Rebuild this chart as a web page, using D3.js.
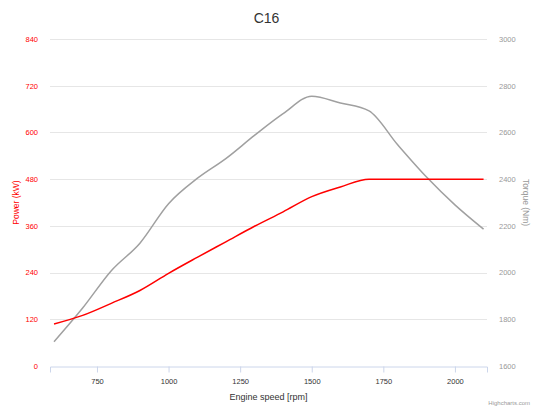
<!DOCTYPE html>
<html lang="en">
<head>
<meta charset="UTF-8">
<title>C16</title>
<style>
    body { margin: 0; background: #fff; }
    svg { display: block; font-family: "Liberation Sans", Arial, sans-serif; }
    .grid line { stroke: #e6e6e6; stroke-width: 1px; }
</style>
</head>
<body>
<div id="chart"></div>
<script src="https://cdn.jsdelivr.net/npm/d3@7"></script>
<script>
// engine speed (rpm)
const rpm = [600, 700, 800, 900, 1000, 1100, 1200, 1300, 1400, 1500, 1600, 1700, 1800, 1900, 2000, 2100];
// power (kW)
const power = [108, 130, 161, 194, 238, 279, 319, 359, 396, 435, 460, 480, 480, 480, 480, 480];
// torque (Nm)
const torque = [1704, 1848, 2008, 2126, 2295, 2403, 2488, 2587, 2680, 2755, 2726, 2692, 2547, 2410, 2290, 2186];

const powerTicks = [0, 120, 240, 360, 480, 600, 720, 840];
const torqueTicks = [1600, 1800, 2000, 2200, 2400, 2600, 2800, 3000];
const rpmTicks = [750, 1000, 1250, 1500, 1750, 2000];

const W = 533, H = 407;
const plotLeft = 50, plotRight = 487, plotTop = 39, plotBottom = 366;

const svg = d3.select("#chart").append("svg")
    .attr("width", W)
    .attr("height", H);

const x = d3.scaleLinear().domain([586, 2112]).range([plotLeft, plotRight]);
const yP = d3.scaleLinear().domain([0, 840]).range([plotBottom, plotTop]);
const yT = d3.scaleLinear().domain([1600, 3000]).range([plotBottom, plotTop]);

// title
svg.append("text")
    .attr("x", W / 2).attr("y", 23)
    .attr("text-anchor", "middle")
    .style("font-size", "14px")
    .style("fill", "#333")
    .text("C16");

// gridlines
svg.append("g").attr("class", "grid")
    .selectAll("line")
    .data(powerTicks.slice(1))
    .enter().append("line")
    .attr("x1", plotLeft).attr("x2", plotRight)
    .attr("y1", d => Math.round(yP(d)) + 0.5)
    .attr("y2", d => Math.round(yP(d)) + 0.5);

// x axis
const xAxis = svg.append("g")
    .attr("transform", "translate(0," + (plotBottom + 0.5) + ")")
    .call(d3.axisBottom(x).tickValues(rpmTicks).tickSize(6).tickPadding(6).tickFormat(d3.format("d")));
xAxis.select(".domain").attr("stroke", "#ccd6eb");
xAxis.selectAll(".tick line").attr("stroke", "#ccd6eb");
xAxis.selectAll("text").style("font-size", "7.5px").style("fill", "#333");

// left axis (power)
const yAxisL = svg.append("g")
    .attr("transform", "translate(" + plotLeft + ",0)")
    .call(d3.axisLeft(yP).tickValues(powerTicks).tickSize(0).tickPadding(12).tickFormat(d3.format("d")));
yAxisL.select(".domain").remove();
yAxisL.selectAll("text").style("font-size", "7.5px").style("fill", "#ff0000");

// right axis (torque)
const yAxisR = svg.append("g")
    .attr("transform", "translate(" + plotRight + ",0)")
    .call(d3.axisRight(yT).tickValues(torqueTicks).tickSize(0).tickPadding(12).tickFormat(d3.format("d")));
yAxisR.select(".domain").remove();
yAxisR.selectAll("text").style("font-size", "7.5px").style("fill", "#999");

// axis titles
svg.append("text")
    .attr("x", (plotLeft + plotRight) / 2).attr("y", 400)
    .attr("text-anchor", "middle")
    .style("font-size", "9px")
    .style("fill", "#333")
    .text("Engine speed [rpm]");

svg.append("text")
    .attr("transform", "translate(19," + (plotTop + plotBottom) / 2 + ") rotate(-90)")
    .attr("text-anchor", "middle")
    .style("font-size", "8.5px")
    .style("fill", "#ff0000")
    .text("Power (kW)");

svg.append("text")
    .attr("transform", "translate(523," + (plotTop + plotBottom) / 2 + ") rotate(90)")
    .attr("text-anchor", "middle")
    .style("font-size", "8.5px")
    .style("fill", "#999")
    .text("Torque (Nm)");

// series
const powerLine = d3.line()
    .x((d, i) => x(rpm[i]))
    .y(d => yP(d))
    .curve(d3.curveMonotoneX);

const torqueLine = d3.line()
    .x((d, i) => x(rpm[i]))
    .y(d => yT(d))
    .curve(d3.curveMonotoneX);

svg.append("path")
    .datum(torque)
    .attr("d", torqueLine)
    .attr("fill", "none")
    .attr("stroke", "#a0a0a0")
    .attr("stroke-width", 1.5);

svg.append("path")
    .datum(power)
    .attr("d", powerLine)
    .attr("fill", "none")
    .attr("stroke", "#ff0000")
    .attr("stroke-width", 1.5);

// credits
svg.append("text")
    .attr("x", W - 3).attr("y", H - 2)
    .attr("text-anchor", "end")
    .style("font-size", "6px")
    .style("fill", "#999")
    .text("Highcharts.com");
</script>
</body>
</html>
